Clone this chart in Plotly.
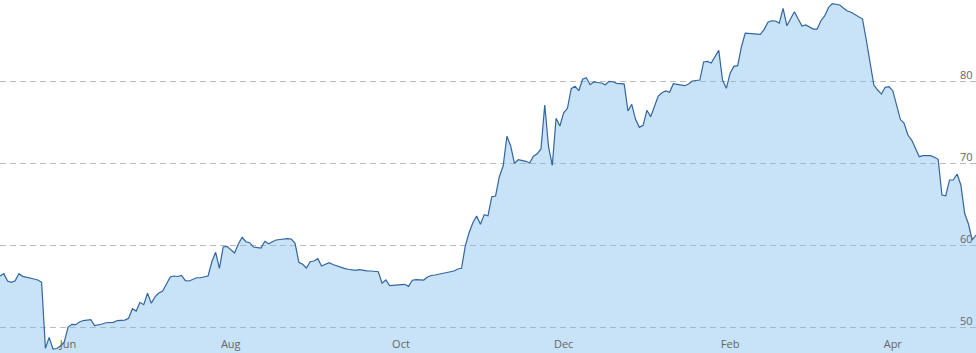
import pandas as pd
import plotly.graph_objects as go

start_date = "2022-05-06"

values = [
    56.22, 56.50, 55.61, 55.45, 55.65, 56.50, 56.18, 56.10, 56.01, 55.85,
    55.73, 55.45, 47.40, 48.74, 47.32, 47.38, 47.68, 48.17, 50.00, 50.33,
    50.28, 50.61, 50.79, 50.85, 50.89, 50.16, 50.24, 50.37, 50.52, 50.55,
    50.57, 50.79, 50.83, 50.85, 51.06, 52.23, 51.95, 53.01, 52.72, 54.11,
    52.89, 53.70, 54.15, 54.39, 55.24, 56.10, 56.22, 56.16, 56.30, 55.65,
    55.61, 55.85, 56.01, 56.01, 56.10, 56.22, 57.96, 59.11, 57.16, 59.76,
    59.84, 59.48, 59.02, 60.12, 60.94, 60.40, 60.28, 59.76, 59.72, 59.63,
    60.45, 60.16, 60.40, 60.61, 60.67, 60.73, 60.77, 60.73, 60.21, 57.89,
    57.65, 57.20, 57.96, 58.05, 58.33, 57.44, 57.68, 57.84, 57.62, 57.44,
    57.26, 57.16, 57.04, 56.95, 56.91, 56.99, 56.87, 56.84, 56.83, 56.79,
    56.74, 55.33, 55.73, 55.04, 55.09, 55.12, 55.21, 55.21, 54.96, 55.70,
    55.77, 55.76, 55.73, 56.10, 56.28, 56.34, 56.43, 56.52, 56.61, 56.71,
    56.83, 57.07, 57.16, 59.88, 61.50, 62.72, 63.54, 62.52, 63.70, 63.57,
    65.89, 65.98, 68.33, 69.63, 73.26, 72.07, 69.96, 70.40, 70.33, 70.21,
    70.00, 70.82, 71.13, 71.71, 77.07, 71.99, 69.72, 75.45, 74.51, 76.13,
    76.67, 79.06, 79.35, 78.82, 80.21, 80.40, 79.55, 79.88, 79.82, 79.76,
    79.55, 79.96, 79.91, 79.72, 79.67, 79.63, 76.34, 77.16, 75.33, 74.35,
    74.60, 76.43, 75.65, 76.95, 78.17, 78.57, 78.78, 78.62, 79.67, 79.60,
    79.51, 79.43, 79.63, 80.00, 80.06, 80.12, 82.32, 82.40, 82.20, 82.96,
    83.74, 80.12, 79.11, 80.94, 81.79, 81.87, 84.18, 85.85, 85.82, 85.78,
    85.73, 85.70, 86.30, 87.16, 87.35, 87.32, 87.07, 88.87, 86.74, 87.56,
    88.45, 87.56, 86.71, 86.83, 86.62, 86.34, 86.34, 87.35, 87.93, 88.94,
    89.43, 89.35, 89.27, 88.87, 88.54, 88.38, 88.13, 87.80, 87.56, 85.00,
    81.95, 79.51, 78.90, 78.41, 79.23, 79.30, 78.82, 76.95, 75.33, 74.84,
    73.41, 72.80, 71.87, 70.77, 70.89, 70.89, 70.89, 70.70, 70.45, 66.10,
    66.01, 67.93, 67.93, 68.66, 67.32, 63.87, 62.56, 60.61, 61.22,
]

tick_dates = ["2022-06-01", "2022-08-01", "2022-10-03", "2022-12-01", "2023-02-01", "2023-04-03"]
tick_labels = ["Jun", "Aug", "Oct", "Dec", "Feb", "Apr"]
y_ticks = [50, 60, 70, 80]

dates = pd.bdate_range(start_date, periods=len(values))

fig = go.Figure()
fig.add_trace(go.Scatter(
    x=dates, y=values, mode="lines",
    line=dict(color="#33659f", width=1.2),
    fill="tozeroy", fillcolor="rgba(117,185,235,0.40)",
    hoverinfo="skip",
))

fig.update_layout(
    width=976, height=353,
    margin=dict(l=0, r=0, t=0, b=0),
    paper_bgcolor="white", plot_bgcolor="white",
    showlegend=False,
    font=dict(family="Open Sans, Arial, sans-serif", size=11, color="#666666"),
)
fig.update_xaxes(
    range=[dates[0], dates[-1]],
    rangebreaks=[dict(bounds=["sat", "mon"])],
    tickmode="array", tickvals=tick_dates, ticktext=tick_labels,
    ticklabelposition="inside", ticks="",
    automargin=False,
    showgrid=False, zeroline=False, showline=False,
    tickfont=dict(size=11, color="#666666"),
)
fig.update_yaxes(
    range=[46.83, 89.88],
    side="right",
    tickmode="array", tickvals=y_ticks,
    showticklabels=False, ticks="",
    automargin=False,
    showgrid=True, gridcolor="#bcbcbc", gridwidth=1, griddash="6px,4px",
    zeroline=False, showline=False,
)

for v in y_ticks:
    fig.add_annotation(
        x=1, xref="paper", y=v, yref="y",
        text=str(v), showarrow=False,
        xanchor="right", yanchor="bottom",
        xshift=-1, yshift=-3,
        font=dict(size=11, color="#666666"),
    )

fig.write_html("out.html", config={"displayModeBar": False})
